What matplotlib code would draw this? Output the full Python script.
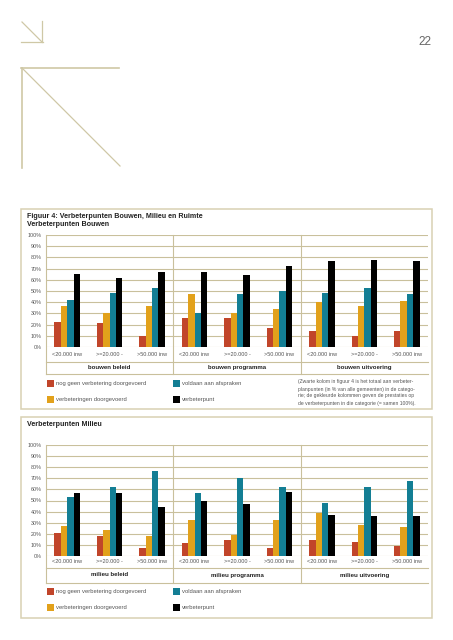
import numpy as np
import matplotlib
matplotlib.use("Agg")
import matplotlib.pyplot as plt
from matplotlib.patches import Rectangle
from matplotlib.lines import Line2D

plt.rcParams['font.family'] = ['Liberation Sans', 'DejaVu Sans']

# data
series = ["nog geen verbetering doorgevoerd", "verbeteringen doorgevoerd",
          "voldaan aan afspraken", "verbeterpunt"]
colors = ["#c1452a", "#e2a11b", "#137e94", "#000000"]
sizes = ["<20.000 inw", ">=20.000 -", ">50.000 inw"]
bouwen_groups = ["bouwen beleid", "bouwen programma", "bouwen uitvoering"]
milieu_groups = ["milieu beleid", "milieu programma", "milieu uitvoering"]

bouwen_red = [22, 21, 10, 26, 26, 17, 14, 10, 14]
bouwen_orange = [37, 30, 37, 47, 30, 34, 40, 37, 41]
bouwen_teal = [42, 48, 53, 30, 47, 50, 48, 53, 47]
bouwen_black = [65, 62, 67, 67, 64, 72, 77, 78, 77]

milieu_red = [21, 18, 7, 12, 14, 7, 14, 13, 9]
milieu_orange = [27, 23, 18, 32, 19, 32, 39, 28, 26]
milieu_teal = [53, 62, 77, 57, 70, 62, 48, 62, 68]
milieu_black = [57, 57, 44, 50, 47, 58, 37, 36, 36]

note = ["(Zwarte kolom in figuur 4 is het totaal aan verbeter-",
        "planpunten (in % van alle gemeenten) in de catego-",
        "rie; de gekleurde kolommen geven de prestaties op",
        "de verbeterpunten in die categorie (= samen 100%)."]

W, H = 453, 640
fig = plt.figure(figsize=(W / 100, H / 100), dpi=100)
fig.patch.set_facecolor("white")

grid_c = "#c9c09c"
frame_c = "#d8d1b3"
deco_c = "#cfc8a6"


def fx(x):
    return x / W


def fy(y):
    return 1 - y / H


def fline(xs, ys, color=deco_c, lw=0.9):
    fig.add_artist(Line2D([fx(v) for v in xs], [fy(v) for v in ys],
                          color=color, lw=lw, transform=fig.transFigure))


# page decoration
fline([22, 42], [22, 42])
fline([21, 43], [42, 42])
fline([42, 42], [21, 42])
fline([21, 119], [68, 68], lw=1.2)
fline([22, 22], [68, 168], lw=1.2)
fline([22, 120], [68, 166])
fig.text(fx(425), fy(42), "22", fontsize=8.5, color="#666666",
         ha="center", va="center")


def chart(top, bottom, data, groups, title_lines, box, label_off, leg_y):
    # frame box
    x0, y0, x1, y1 = box
    fig.add_artist(Rectangle((fx(x0), fy(y1)), fx(x1) - fx(x0), fy(y0) - fy(y1),
                             fill=False, edgecolor=frame_c, lw=1.1,
                             transform=fig.transFigure))
    for t, yy in title_lines:
        fig.text(fx(27), fy(yy), t, fontsize=5.1, fontweight="bold",
                 color="#222222", va="center", ha="left")

    ax = fig.add_axes([fx(46), fy(bottom), fx(428) - fx(46), fy(top) - fy(bottom)])
    n = len(sizes) * len(groups)
    xc = np.arange(n) + 0.5
    w = 0.15
    for k, vals in enumerate(data):
        ax.bar(xc + (k - 1.5) * w, vals, width=w, color=colors[k], zorder=3)
    ax.set_xlim(0, n)
    ax.set_ylim(0, 100)
    ax.set_yticks(np.arange(0, 101, 10))
    ax.set_yticklabels([f"{v}%" for v in range(0, 101, 10)])
    ax.tick_params(axis="y", length=0, pad=3, labelsize=3.9, labelcolor="#555555")
    ax.set_xticks([])
    ax.yaxis.grid(True, color=grid_c, lw=0.8, zorder=0)
    for s in ["top", "right", "bottom", "left"]:
        ax.spines[s].set_visible(False)

    ph = bottom - top
    cat_y, line1, grp_y, line2 = [-(v - bottom) / ph for v in label_off]
    xt = ax.get_xaxis_transform()
    # vertical dividers
    for xv in [0, 3, 6]:
        ax.plot([xv, xv], [line2, 1], color=grid_c, lw=0.8, transform=xt,
                clip_on=False, zorder=1)
    for yv in [line1, line2]:
        ax.plot([0, n], [yv, yv], color=grid_c, lw=0.8, transform=xt,
                clip_on=False)
    for i in range(n):
        ax.text(xc[i], cat_y, sizes[i % 3], transform=xt, ha="center",
                va="center", fontsize=4.0, color="#555555")
    for g, name in enumerate(groups):
        ax.text(g * 3 + 1.5, grp_y, name, transform=xt, ha="center",
                va="center", fontsize=4.4, fontweight="bold", color="#222222")

    # legend
    order = [(0, 47, leg_y[0]), (1, 47, leg_y[1]), (2, 173, leg_y[0]), (3, 173, leg_y[1])]
    for k, lx, ly in order:
        fig.add_artist(Rectangle((fx(lx), fy(ly + 3.5)), 7 / W, 7 / H,
                                 facecolor=colors[k], edgecolor="none",
                                 transform=fig.transFigure))
        fig.text(fx(lx + 9), fy(ly), series[k], fontsize=4.2, color="#555555",
                 va="center", ha="left")
    return ax


chart(235, 347, [bouwen_red, bouwen_orange, bouwen_teal, bouwen_black],
      bouwen_groups,
      [("Figuur 4: Verbeterpunten Bouwen, Milieu en Ruimte", 216),
       ("Verbeterpunten Bouwen", 225)],
      (21, 209, 432, 409), (354, 362, 367.5, 374), (383, 399))

chart(445, 556, [milieu_red, milieu_orange, milieu_teal, milieu_black],
      milieu_groups,
      [("Verbeterpunten Milieu", 425)],
      (21, 417, 432, 618), (561.5, 567.5, 575, 582.5), (591, 607))

for i, line in enumerate(note):
    fig.text(fx(298), fy(382 + i * 7), line, fontsize=3.6, color="#555555",
             va="center", ha="left")

fig.savefig("out.png", dpi=100)
